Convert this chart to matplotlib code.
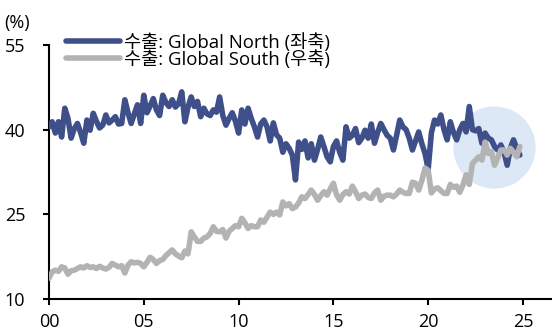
import numpy as np
import matplotlib
matplotlib.use("Agg")
import matplotlib.pyplot as plt

plt.rcParams['font.family'] = ['Open Sans', 'Noto Sans CJK KR', 'DejaVu Sans']

# bi-monthly export shares (%), Jan 2000 .. Nov 2024
north = [
    40.5, 41.4, 39.4, 41.4, 38.7, 43.8,
    42.0, 38.5, 40.2, 41.1, 39.5, 37.6,
    41.7, 39.9, 42.9, 41.5, 40.3, 40.8,
    42.6, 41.2, 41.7, 42.3, 41.0, 41.1,
    45.3, 43.0, 41.1, 42.8, 44.4, 41.1,
    46.1, 43.0, 44.2, 45.5, 43.5, 42.5,
    46.1, 44.8, 44.1, 45.3, 44.0, 44.6,
    46.7, 41.4, 44.0, 45.8, 44.1, 45.0,
    42.3, 43.8, 42.8, 42.5, 43.5, 43.1,
    45.8, 42.5, 40.8, 42.0, 43.0, 41.5,
    39.4, 43.5, 41.0, 43.8, 42.0, 40.5,
    38.7, 41.0, 41.7, 40.5, 38.0, 41.2,
    39.1, 38.5, 36.0, 37.5, 36.7, 35.5,
    31.1, 37.8, 36.5, 38.0, 35.0, 37.5,
    34.6, 36.5, 38.7, 37.0, 35.2, 34.3,
    37.0, 38.0, 36.0, 34.6, 40.5, 38.5,
    39.0, 40.2, 37.7, 38.5, 39.9, 38.5,
    41.0, 37.6, 39.5, 41.1, 40.0, 39.0,
    38.5, 36.4, 39.0, 41.7, 40.5, 40.0,
    38.5, 36.4, 38.0, 39.6, 37.5, 35.8,
    33.0, 39.4, 41.7, 41.0, 42.6, 40.0,
    38.2, 41.4, 39.5, 38.2, 40.0, 41.1,
    39.6, 44.1, 40.0, 39.8, 40.2, 37.6,
    39.4, 38.5, 38.2, 37.0, 36.4, 37.3,
    36.0, 33.7, 36.7, 38.2, 36.7, 35.5,
]
south = [
    13.7, 14.8, 15.1, 14.9, 15.7, 15.5,
    14.4, 15.0, 15.1, 15.4, 15.7, 15.5,
    15.9, 15.6, 15.7, 15.4, 15.8, 15.5,
    15.3, 15.6, 16.3, 16.0, 15.7, 15.9,
    14.6, 16.0, 16.6, 16.4, 16.5, 16.3,
    15.7, 16.5, 17.4, 17.0, 16.3, 16.8,
    17.0, 17.7, 18.2, 18.7, 18.0, 17.6,
    17.3, 18.5, 18.0, 21.9, 21.0, 20.2,
    20.2, 20.8, 21.0, 21.6, 22.8, 22.0,
    21.9, 22.3, 20.8, 22.0, 22.5, 23.0,
    22.8, 24.3, 23.5, 22.5, 23.0, 22.8,
    22.8, 24.0, 23.6, 24.5, 25.4, 25.0,
    25.4, 24.9, 27.2, 26.5, 26.9, 26.0,
    26.3, 27.0, 28.1, 27.8, 28.5, 29.3,
    28.5, 27.5, 28.3, 29.0, 28.4, 29.5,
    30.5, 28.5, 27.5, 28.5, 29.0, 28.6,
    30.0, 29.0, 27.8, 28.4, 28.6, 28.0,
    27.8, 28.8, 29.3, 27.5, 28.2, 28.4,
    28.4, 28.1, 28.6, 29.3, 28.9, 28.7,
    28.7, 30.7, 30.5, 29.3, 31.0, 33.2,
    32.8, 28.8, 29.5, 29.7, 29.2, 28.7,
    28.7, 30.3, 29.8, 30.0, 28.9, 30.2,
    32.0, 30.3, 34.0, 34.6, 35.2, 34.6,
    37.8, 35.8, 36.1, 33.7, 35.0, 36.4,
    36.4, 35.5, 36.7, 36.0, 35.2, 37.0,
]
years = 2000 + np.arange(len(north)) / 6.0

yticks = [10, 25, 40, 55]
xticks = [2000, 2005, 2010, 2015, 2020, 2025]
xlabels = ["00", "05", "10", "15", "20", "25"]

# highlighted recent period
hl_x, hl_y = 2023.45, 36.9

navy = "#3f4f8a"
grey = "#b3b3b3"

fig = plt.figure(figsize=(5.52, 3.31), dpi=100)
ax = fig.add_axes([49 / 552, 32 / 331, 503 / 552, 254 / 331])

ax.scatter([hl_x], [hl_y], s=3500, color="#dce8f5", zorder=1, linewidths=0)
ax.plot(years, north, color=navy, lw=4, zorder=3, solid_capstyle="round",
        solid_joinstyle="round", label="수출: Global North (좌축)")
ax.plot(years, south, color=grey, lw=4, zorder=4, solid_capstyle="round",
        solid_joinstyle="round", label="수출: Global South (우축)")

ax.set_xlim(2000, 2026.53)
ax.set_ylim(10, 55)
ax.set_yticks(yticks)
ax.set_xticks(xticks)
ax.set_xticklabels(xlabels)

for s in ["top", "right"]:
    ax.spines[s].set_visible(False)
for s in ["left", "bottom"]:
    ax.spines[s].set_linewidth(1.5)
ax.tick_params(axis="y", direction="out", length=4, width=1.5, pad=13, labelsize=13)
ax.tick_params(axis="x", direction="out", length=4, width=1.5, pad=6, labelsize=13)

fig.text(4 / 552, 1 - 23 / 331, "(%)", fontsize=13, va="center", ha="left")

ax.legend(loc="upper left", bbox_to_anchor=(66 / 552, 1 - 33 / 331),
          bbox_transform=fig.transFigure, frameon=False, fontsize=13.4,
          borderpad=0, borderaxespad=0, handlelength=2.9, handletextpad=0.2,
          labelspacing=-0.1)

fig.savefig("out.png", dpi=100)
